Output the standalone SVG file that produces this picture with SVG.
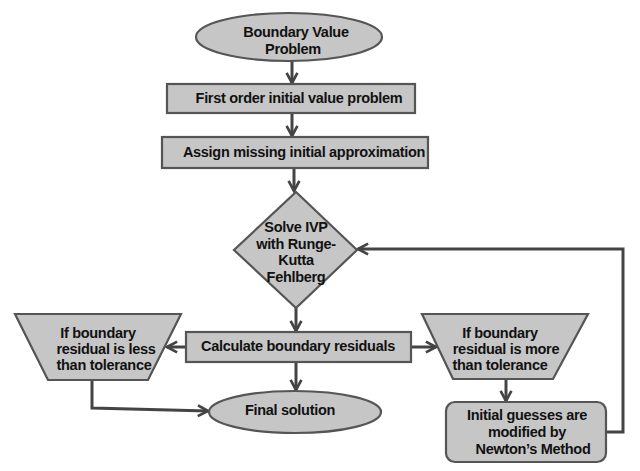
<svg xmlns="http://www.w3.org/2000/svg" width="640" height="471" viewBox="0 0 640 471">
<style>
.shape{fill:#c6c6c6;stroke:#555555;stroke-width:2.2}
.conn{fill:none;stroke:#444444;stroke-width:3}
text{font-family:"Liberation Sans",Arial,sans-serif;font-weight:bold;font-size:14.5px;fill:#111111;text-anchor:middle;letter-spacing:-0.3px}
</style>
<defs>
<marker id="arr" viewBox="0 0 10 10" refX="8.5" refY="5" markerWidth="4.5" markerHeight="4.5" orient="auto" markerUnits="strokeWidth">
<path d="M1,1 L8.5,5 L1,9" fill="none" stroke="#444444" stroke-width="2"/>
</marker>
</defs>
<rect width="640" height="471" fill="#ffffff"/>
<g id="connectors">
<line class="conn" x1="292" y1="61" x2="292" y2="83" marker-end="url(#arr)"/>
<line class="conn" x1="292" y1="113" x2="292" y2="136" marker-end="url(#arr)"/>
<line class="conn" x1="294" y1="168" x2="294" y2="191" marker-end="url(#arr)"/>
<line class="conn" x1="296" y1="308" x2="296" y2="331" marker-end="url(#arr)"/>
<line class="conn" x1="186" y1="347" x2="167" y2="347" marker-end="url(#arr)"/>
<line class="conn" x1="411" y1="347" x2="436" y2="347" marker-end="url(#arr)"/>
<line class="conn" x1="296" y1="362" x2="296" y2="390" marker-end="url(#arr)"/>
<polyline class="conn" points="92,380 92,408 208,411" marker-end="url(#arr)"/>
<line class="conn" x1="506" y1="379" x2="506" y2="401" marker-end="url(#arr)"/>
<polyline class="conn" points="606,432 623,432 623,249 358,249" marker-end="url(#arr)"/>
</g>
<g id="start">
<ellipse class="shape" cx="289" cy="37" rx="93" ry="24"/>
<text x="296" y="37">Boundary Value</text>
<text x="293" y="54">Problem</text>
</g>
<g id="first-order">
<rect class="shape" x="167" y="84" width="248" height="29"/>
<text x="299" y="103">First order initial value problem</text>
</g>
<g id="assign">
<rect class="shape" x="162" y="137" width="266" height="31"/>
<text x="304" y="157">Assign missing initial approximation</text>
</g>
<g id="solve">
<polygon class="shape" points="296,192 357,250 296,308 234,250"/>
<text x="296" y="232">Solve IVP</text>
<text x="296" y="249">with Runge-</text>
<text x="296" y="265">Kutta</text>
<text x="296" y="282">Fehlberg</text>
</g>
<g id="calculate">
<rect class="shape" x="186" y="332" width="225" height="30"/>
<text x="298" y="351">Calculate boundary residuals</text>
</g>
<g id="less">
<polygon class="shape" points="15,314 181,314 148,380 48,380"/>
<text x="98" y="338">If boundary</text>
<text x="106" y="354">residual is less</text>
<text x="104" y="370">than tolerance</text>
</g>
<g id="more">
<polygon class="shape" points="422,314 588,314 553,379 453,379"/>
<text x="500" y="338">If boundary</text>
<text x="506" y="354">residual is more</text>
<text x="500" y="370">than tolerance</text>
</g>
<g id="final">
<ellipse class="shape" cx="295" cy="412" rx="86" ry="21"/>
<text x="290" y="415">Final solution</text>
</g>
<g id="newton">
<rect class="shape" x="446" y="402" width="160" height="60" rx="9" ry="9"/>
<text x="527" y="420">Initial guesses are</text>
<text x="527" y="437">modified by</text>
<text x="533" y="454">Newton’s Method</text>
</g>
</svg>
